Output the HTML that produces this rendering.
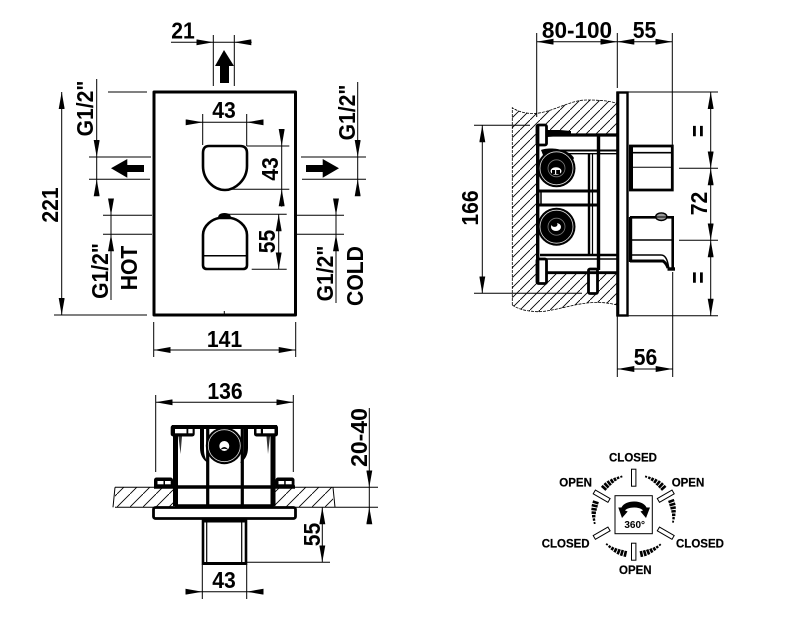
<!DOCTYPE html>
<html>
<head>
<meta charset="utf-8">
<style>
html,body{margin:0;padding:0;background:#fff}
svg{display:block}
text{font-family:"Liberation Sans",Arial,sans-serif;font-weight:bold;fill:#000}
.t{font-size:23.5px;text-anchor:middle}
.s{font-size:11.5px;stroke:#000;stroke-width:.2}
.d line{stroke:#000;stroke-width:1;fill:none}
</style>
</head>
<body>
<svg width="787" height="624" viewBox="0 0 787 624" xmlns="http://www.w3.org/2000/svg">
<defs>
<marker id="a" markerUnits="userSpaceOnUse" markerWidth="17" markerHeight="6" refX="17" refY="3" orient="auto-start-reverse"><path d="M0,0L17,3L0,6Z" fill="#000"/></marker>
<pattern id="h1" patternUnits="userSpaceOnUse" width="10" height="10"><path d="M-1,11L11,-1" stroke="#000" stroke-width=".9" fill="none"/></pattern>
<pattern id="h2" patternUnits="userSpaceOnUse" width="13" height="13"><path d="M-1,14L14,-1" stroke="#000" stroke-width=".9" fill="none"/></pattern>
<g id="arc" fill="#000">
<rect x="-1.2" y="-43" width="2.6" height="6"/>
<rect x="-1.2" y="-43" width="2.6" height="6" transform="rotate(5)"/>
<rect x="-1.2" y="-42.7" width="2.6" height="5.4" transform="rotate(10)"/>
<rect x="-1.2" y="-42.2" width="2.6" height="4.4" transform="rotate(15)"/>
<rect x="-1.2" y="-41.7" width="2.6" height="3.4" transform="rotate(20)"/>
<rect x="-1.2" y="-41.2" width="2.4" height="2.4" transform="rotate(25)"/>
<rect x="-1" y="-40.9" width="2" height="1.8" transform="rotate(30)"/>
</g>
</defs>

<!-- FRONT VIEW -->
<g class="d">
<line x1="171" y1="42.3" x2="213.3" y2="42.3" marker-end="url(#a)"/>
<line x1="251.7" y1="42.3" x2="234.3" y2="42.3" marker-end="url(#a)"/>
<line x1="213.3" y1="42.3" x2="234.3" y2="42.3"/>
<line x1="213.3" y1="35" x2="213.3" y2="86"/>
<line x1="234.3" y1="35" x2="234.3" y2="86"/>

<line x1="108" y1="92" x2="147" y2="92"/>
<line x1="54" y1="315" x2="147" y2="315"/>
<line x1="61.7" y1="92" x2="61.7" y2="315" marker-start="url(#a)" marker-end="url(#a)"/>

<line x1="89" y1="157" x2="151" y2="157"/>
<line x1="89" y1="179.3" x2="150" y2="179.3"/>
<line x1="96.7" y1="79" x2="96.7" y2="157" marker-end="url(#a)"/>
<line x1="96.7" y1="195" x2="96.7" y2="179.3" marker-end="url(#a)"/>
<line x1="96.7" y1="157" x2="96.7" y2="179.3"/>

<line x1="301" y1="157" x2="366" y2="157"/>
<line x1="302" y1="179.3" x2="366" y2="179.3"/>
<line x1="357.7" y1="82" x2="357.7" y2="157" marker-end="url(#a)"/>
<line x1="357.7" y1="195" x2="357.7" y2="179.3" marker-end="url(#a)"/>
<line x1="357.7" y1="157" x2="357.7" y2="179.3"/>

<line x1="103" y1="215.3" x2="152" y2="215.3"/>
<line x1="103" y1="234.3" x2="152" y2="234.3"/>
<line x1="111" y1="199" x2="111" y2="215.3" marker-end="url(#a)"/>
<line x1="111" y1="300" x2="111" y2="234.3" marker-end="url(#a)"/>
<line x1="111" y1="215.3" x2="111" y2="234.3"/>

<line x1="297" y1="215.3" x2="344" y2="215.3"/>
<line x1="297" y1="234.3" x2="344" y2="234.3"/>
<line x1="336" y1="199" x2="336" y2="215.3" marker-end="url(#a)"/>
<line x1="336" y1="303" x2="336" y2="234.3" marker-end="url(#a)"/>
<line x1="336" y1="215.3" x2="336" y2="234.3"/>

<line x1="186" y1="122.3" x2="202.7" y2="122.3" marker-end="url(#a)"/>
<line x1="263.3" y1="122.3" x2="246.7" y2="122.3" marker-end="url(#a)"/>
<line x1="202.7" y1="122.3" x2="246.7" y2="122.3"/>
<line x1="202.7" y1="114" x2="202.7" y2="145"/>
<line x1="246.7" y1="114" x2="246.7" y2="146"/>

<line x1="246.7" y1="146" x2="289.3" y2="146"/>
<line x1="230" y1="189.3" x2="289.3" y2="189.3"/>
<line x1="281.7" y1="129" x2="281.7" y2="146" marker-end="url(#a)"/>
<line x1="281.7" y1="206.7" x2="281.7" y2="189.3" marker-end="url(#a)"/>
<line x1="281.7" y1="146" x2="281.7" y2="189.3"/>

<line x1="228" y1="214.3" x2="286.7" y2="214.3"/>
<line x1="251.7" y1="269.3" x2="286.7" y2="269.3"/>
<line x1="278.7" y1="214.3" x2="278.7" y2="269.3" marker-start="url(#a)" marker-end="url(#a)"/>

<line x1="153.7" y1="322" x2="153.7" y2="357"/>
<line x1="295.7" y1="322" x2="295.7" y2="357"/>
<line x1="153.7" y1="350" x2="295.7" y2="350" marker-start="url(#a)" marker-end="url(#a)"/>
<line x1="224.3" y1="311" x2="224.3" y2="315"/>
</g>
<rect x="154" y="92" width="141.5" height="223" fill="none" stroke="#000" stroke-width="3" stroke-linejoin="round"/>
<path d="M224,50L234,66H229V83H220V66H215Z"/>
<path d="M111,168.3L127.3,159V165H144V172H127.3V177.7Z"/>
<path d="M339,168.3L322.7,159V165H306V172H322.7V177.7Z"/>
<path d="M209,146H240Q247,146 247,153V166C247,180 235,190 225,190C214,190 203,180 203,166V153Q203,146 209,146Z" fill="none" stroke="#000" stroke-width="2.6"/>
<path d="M203,235C203,225 213,219 219,218H231C237,219 247,225 247,235V265Q247,269 243,269H207Q203,269 203,265Z" fill="none" stroke="#000" stroke-width="2.6"/>
<path d="M218,218Q218,213 224.5,213Q231,213 231,218Z"/>
<line x1="203" y1="255.7" x2="247" y2="255.7" stroke="#000" stroke-width="1.5"/>

<text class="t" transform="translate(183,38.5) scale(.9,1)">21</text>
<text class="t" transform="translate(224,118) scale(.9,1)">43</text>
<text class="t" transform="translate(224.5,347) scale(.9,1)">141</text>
<text class="t" transform="translate(58,205) rotate(-90) scale(.9,1)">221</text>
<text class="t" transform="translate(93,108.5) rotate(-90) scale(.9,1)">G1/2"</text>
<text class="t" transform="translate(355,112.5) rotate(-90) scale(.9,1)">G1/2"</text>
<text class="t" transform="translate(108,271) rotate(-90) scale(.9,1)">G1/2"</text>
<text class="t" transform="translate(137,268) rotate(-90) scale(.9,1)">HOT</text>
<text class="t" transform="translate(333,273.5) rotate(-90) scale(.9,1)">G1/2"</text>
<text class="t" transform="translate(363,276) rotate(-90) scale(.9,1)">COLD</text>
<text class="t" transform="translate(278,169) rotate(-90) scale(.9,1)">43</text>
<text class="t" transform="translate(275,241.5) rotate(-90) scale(.9,1)">55</text>

<!-- SIDE VIEW -->
<path d="M512.3,107.7C520,113 530,114 537,113.3C555,111 570,100 587,100C600,100 610,101 617,103.3V305C605,302 597,302 587,303C570,305 550,312 537,311.7C525,311 518,309 512.3,305Z" fill="url(#h1)"/>
<path d="M512.3,305V107.7C520,113 530,114 537,113.3C555,111 570,100 587,100C600,100 610,101 617,103.3M512.3,305C518,309 525,311 537,311.7C550,312 570,305 587,303C597,302 605,302 617,305" fill="none" stroke="#000" stroke-width=".8" stroke-dasharray="3 1"/>
<rect x="538" y="135" width="79" height="139" fill="#fff"/>

<g fill="none" stroke="#000">
<rect x="537" y="125" width="9.5" height="20" stroke-width="2.8" fill="#fff" rx="1.5"/>
<rect x="537" y="259" width="9.5" height="24.5" stroke-width="2.8" fill="#fff" rx="1.5"/>
<rect x="588.5" y="269" width="9" height="24.5" stroke-width="2.8" fill="#fff" rx="1.5"/>
<line x1="537.7" y1="125" x2="537.7" y2="284" stroke-width="3.4"/>
<line x1="598.5" y1="134" x2="598.5" y2="270" stroke-width="3.4"/>
<line x1="589" y1="154" x2="589" y2="254" stroke-width="2.4"/>
<line x1="592.5" y1="154" x2="592.5" y2="254" stroke-width="1.2"/>
<line x1="547" y1="135" x2="617" y2="135" stroke-width="3.2"/>
<line x1="547" y1="150.5" x2="617" y2="150.5" stroke-width="2"/>
<line x1="547" y1="153.7" x2="617" y2="153.7" stroke-width="1.4"/>
<line x1="537" y1="191" x2="600" y2="191" stroke-width="3"/>
<line x1="537" y1="205" x2="600" y2="205" stroke-width="3"/>
<line x1="541" y1="191" x2="541" y2="205" stroke-width="1.5"/>
<line x1="540" y1="255" x2="617" y2="255" stroke-width="2.4"/>
<line x1="540" y1="259" x2="617" y2="259" stroke-width="1.4"/>
<line x1="547" y1="272.7" x2="617" y2="272.7" stroke-width="2.8"/>
</g>
<path d="M547,130L560,130L571,131L571,135L547,137Z"/>
<rect x="617.5" y="92.5" width="10" height="223" fill="#fff" stroke="#000" stroke-width="2.4"/>
<line x1="617.8" y1="92" x2="617.8" y2="316" stroke="#000" stroke-width="3"/>

<g>
<path d="M541,150C548,147 568,148 574,158L568,170L545,160Z"/>
<circle cx="556.5" cy="168.3" r="19"/>
<circle cx="556.5" cy="168.3" r="16.5" fill="none" stroke="#ddd" stroke-width=".8"/>
<circle cx="556.5" cy="168.3" r="8.5" fill="none" stroke="#777" stroke-width=".8"/>
<ellipse cx="556" cy="171" rx="5.5" ry="3.8" fill="#fff"/>
<path d="M552,174V170H560V174Z"/>
<rect x="555" y="168" width="1.2" height="6" fill="#fff"/>
<circle cx="556.5" cy="226.7" r="19"/>
<circle cx="556.5" cy="226.7" r="16.5" fill="none" stroke="#ddd" stroke-width=".8"/>
<circle cx="556.5" cy="226.7" r="8.5" fill="none" stroke="#777" stroke-width=".8"/>
<ellipse cx="556" cy="227" rx="5" ry="4" fill="#fff"/>
<ellipse cx="554.5" cy="224.5" rx="3" ry="2.4"/>
</g>

<g fill="none" stroke="#000">
<path d="M629,146H672.3V190H629" stroke-width="2.8"/>
<line x1="631" y1="146" x2="631" y2="190" stroke-width="4"/>
<line x1="631" y1="152.7" x2="672" y2="152.7" stroke-width="1.6"/>
<line x1="631" y1="167.3" x2="672" y2="167.3" stroke-width="1"/>
<path d="M630,217.3H672.7V268" stroke-width="2.6"/>
<line x1="630.5" y1="217" x2="630.5" y2="262" stroke-width="3.4"/>
<line x1="630" y1="240" x2="672" y2="240" stroke-width="1.6"/>
<path d="M630,255H661C665,255 667,259 668,264L669,269" stroke-width="1.5"/>
<path d="M630,261H663C666,263 667,265 668,268" stroke-width="3"/>
<path d="M667.5,269H675" stroke-width="3.4"/>
</g>
<ellipse cx="661.3" cy="216.7" rx="5.6" ry="3.8" fill="#999" stroke="#000" stroke-width="1.4"/>
<path d="M656,217H667" stroke="#000" stroke-width="1"/>

<g class="d">
<line x1="536.7" y1="41.7" x2="617.3" y2="41.7" marker-start="url(#a)" marker-end="url(#a)"/>
<line x1="617.3" y1="41.7" x2="672.3" y2="41.7" marker-start="url(#a)" marker-end="url(#a)"/>
<line x1="536.7" y1="33" x2="536.7" y2="117"/>
<line x1="617.3" y1="33" x2="617.3" y2="88"/>
<line x1="672.3" y1="33" x2="672.3" y2="146"/>
<line x1="628" y1="92" x2="718" y2="92"/>
<line x1="628" y1="315.7" x2="718" y2="315.7"/>
<line x1="679" y1="168.3" x2="718" y2="168.3"/>
<line x1="679" y1="240.3" x2="718" y2="240.3"/>
<line x1="710.7" y1="92" x2="710.7" y2="168.3" marker-start="url(#a)" marker-end="url(#a)"/>
<line x1="710.7" y1="168.3" x2="710.7" y2="240.3" marker-start="url(#a)" marker-end="url(#a)"/>
<line x1="710.7" y1="240.3" x2="710.7" y2="315.7" marker-start="url(#a)" marker-end="url(#a)"/>
<line x1="617.3" y1="316" x2="617.3" y2="377"/>
<line x1="672.7" y1="272" x2="672.7" y2="377"/>
<line x1="617.3" y1="369" x2="672.7" y2="369" marker-start="url(#a)" marker-end="url(#a)"/>
<line x1="474" y1="125.3" x2="530" y2="125.3"/>
<line x1="474" y1="293.3" x2="582" y2="293.3"/>
<line x1="482.3" y1="125.3" x2="482.3" y2="293.3" marker-start="url(#a)" marker-end="url(#a)"/>
</g>
<text class="t" transform="translate(577,38) scale(.96,1)">80-100</text>
<text class="t" transform="translate(644.5,38) scale(.9,1)">55</text>
<text class="t" transform="translate(645.5,365) scale(.9,1)">56</text>
<text class="t" transform="translate(478,208) rotate(-90) scale(.9,1)">166</text>
<text class="t" transform="translate(707,203.5) rotate(-90) scale(.9,1)">72</text>
<text class="t" style="font-size:26px" transform="translate(707,131) rotate(-90) scale(.8,1)">=</text>
<text class="t" style="font-size:26px" transform="translate(707,277.5) rotate(-90) scale(.8,1)">=</text>

<!-- BOTTOM VIEW -->
<rect x="115" y="487.3" width="60" height="20" fill="url(#h2)"/>
<rect x="273" y="487.3" width="60" height="20" fill="url(#h2)"/>
<g class="d">
<line x1="155.7" y1="395" x2="155.7" y2="472"/>
<line x1="293.3" y1="395" x2="293.3" y2="472"/>
<line x1="155.7" y1="402.3" x2="293.3" y2="402.3" marker-start="url(#a)" marker-end="url(#a)"/>
<line x1="115" y1="487.3" x2="378" y2="487.3"/>
<line x1="115" y1="507.3" x2="378" y2="507.3"/>
<line x1="115" y1="487.3" x2="113" y2="507.3"/>
<line x1="333" y1="487.3" x2="335" y2="507.3"/>
<line x1="369.3" y1="408" x2="369.3" y2="487.3" marker-end="url(#a)"/>
<line x1="369.3" y1="523" x2="369.3" y2="507.3" marker-end="url(#a)"/>
<line x1="369.3" y1="487.3" x2="369.3" y2="507.3"/>
<line x1="322.3" y1="507.3" x2="322.3" y2="562.3" marker-start="url(#a)" marker-end="url(#a)"/>
<line x1="247" y1="562.3" x2="330" y2="562.3"/>
<line x1="186" y1="591.7" x2="202.3" y2="591.7" marker-end="url(#a)"/>
<line x1="263.3" y1="591.7" x2="246.7" y2="591.7" marker-end="url(#a)"/>
<line x1="202.3" y1="591.7" x2="246.7" y2="591.7"/>
<line x1="202.3" y1="564" x2="202.3" y2="599"/>
<line x1="246.7" y1="564" x2="246.7" y2="599"/>
</g>
<g fill="none" stroke="#000">
<line x1="175.5" y1="436" x2="175.5" y2="506" stroke-width="5"/>
<line x1="273" y1="436" x2="273" y2="506" stroke-width="5"/>
<line x1="207.7" y1="428" x2="207.7" y2="506" stroke-width="3.2"/>
<line x1="242.3" y1="428" x2="242.3" y2="506" stroke-width="3.2"/>
<line x1="172" y1="427" x2="277" y2="427" stroke-width="4"/>
<line x1="154" y1="487" x2="295" y2="487" stroke-width="3.6"/>
<line x1="175" y1="506.5" x2="273" y2="506.5" stroke-width="4.5"/>
<rect x="153.5" y="507.5" width="142" height="11" rx="2" fill="#fff" stroke-width="2.8"/>
<path d="M203,518.5V563.5H246V518.5" stroke-width="2.6" fill="#fff"/>
<line x1="202" y1="520.5" x2="247" y2="520.5" stroke-width="4"/>
<line x1="206.7" y1="520" x2="206.7" y2="562" stroke-width="1.2"/>
<line x1="241.7" y1="520" x2="241.7" y2="562" stroke-width="1.2"/>
<line x1="203" y1="563.5" x2="246" y2="563.5" stroke-width="3"/>
</g>
<rect x="170.7" y="425" width="24" height="11.5" rx="2.5"/>
<rect x="254" y="425" width="24" height="11.5" rx="2.5"/>
<rect x="175" y="429" width="11.5" height="4.3" fill="#fff"/>
<rect x="188.3" y="429" width="4.3" height="4.3" fill="#fff"/>
<rect x="263" y="429" width="11.5" height="4.3" fill="#fff"/>
<rect x="256.5" y="429" width="4.3" height="4.3" fill="#fff"/>
<rect x="154" y="477.5" width="19" height="10" rx="2.5"/>
<rect x="275.5" y="477.5" width="19" height="10" rx="2.5"/>
<rect x="157.5" y="481" width="6" height="3.3" fill="#fff"/>
<rect x="165" y="481" width="5.7" height="3.3" fill="#fff"/>
<rect x="278.5" y="481" width="5.7" height="3.3" fill="#fff"/>
<rect x="285.7" y="481" width="6" height="3.3" fill="#fff"/>
<path d="M200,428H204V450C204,455 206,460 208,463C203,460 200,455 200,448Z"/>
<path d="M248,428H244V450C244,455 242,460 240,463C245,460 248,455 248,448Z"/>
<circle cx="224.3" cy="445.7" r="18.5"/>
<circle cx="224.3" cy="445.7" r="16" fill="none" stroke="#ddd" stroke-width=".8"/>
<circle cx="224.3" cy="446" r="5" fill="#fff"/>
<path d="M220,450Q224.3,444 228.6,450Q224.3,447.5 220,450Z"/>
<path d="M178.5,436.5L182,436.5L180.5,454ZM270,436.5L266.5,436.5L268,454Z" fill="#333"/>
<text class="t" transform="translate(225,399) scale(.9,1)">136</text>
<text class="t" transform="translate(224,588) scale(.9,1)">43</text>
<text class="t" transform="translate(367,437.5) rotate(-90) scale(.98,1)">20-40</text>
<text class="t" transform="translate(320,534.5) rotate(-90) scale(.9,1)">55</text>

<!-- ROTATION DIAGRAM -->
<rect x="615" y="495.7" width="37.3" height="38" fill="none" stroke="#000" stroke-width="1"/>
<g transform="translate(633.7,514.7)" fill="none" stroke="#000" stroke-width="1">
<rect x="-2.2" y="-45.5" width="4.4" height="17"/>
<rect x="-2.2" y="-45.5" width="4.4" height="17" transform="rotate(60)"/>
<rect x="-2.2" y="-45.5" width="4.4" height="17" transform="rotate(120)"/>
<rect x="-2.2" y="-45.5" width="4.4" height="17" transform="rotate(180)"/>
<rect x="-2.2" y="-45.5" width="4.4" height="17" transform="rotate(240)"/>
<rect x="-2.2" y="-45.5" width="4.4" height="17" transform="rotate(300)"/>
</g>
<g transform="translate(633.7,514.7)">
<use href="#arc" transform="rotate(312)"/>
<use href="#arc" transform="rotate(70)"/>
<use href="#arc" transform="rotate(192)"/>
<use href="#arc" transform="rotate(48) scale(-1,1)"/>
<use href="#arc" transform="rotate(288) scale(-1,1)"/>
<use href="#arc" transform="rotate(169) scale(-1,1)"/>
</g>
<path d="M622,518L618.3,507.5L621.5,507.5C625,499.5 643,499.5 646.5,507.5L650,507.5L646,518L640.5,511.5L643,510.5C640,506.5 628,506.5 625,510.5L627.7,511.5Z"/>
<text x="634.7" y="528" text-anchor="middle" style="font-size:10px">360°</text>
<text class="s" x="609" y="461.7">CLOSED</text>
<text class="s" x="559.3" y="486.5">OPEN</text>
<text class="s" x="671.7" y="486.5">OPEN</text>
<text class="s" x="541.7" y="547.3">CLOSED</text>
<text class="s" x="676" y="547.3">CLOSED</text>
<text class="s" x="619" y="574">OPEN</text>
</svg>
</body>
</html>
